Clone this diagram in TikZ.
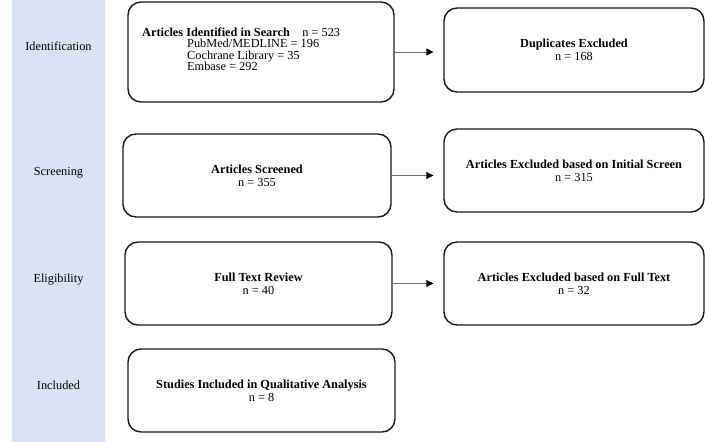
\documentclass[tikz,border=0pt]{standalone}
\usepackage{fontspec}
\setmainfont{Liberation Serif}
\usetikzlibrary{arrows.meta}
\definecolor{bandblue}{RGB}{218,227,243}
\definecolor{edgeblack}{RGB}{25,25,25}
\definecolor{linkgray}{RGB}{110,110,110}

\begin{document}
\begin{tikzpicture}[x=1pt,y=-1pt,
  every node/.style={font=\fontsize{12.3}{12.8}\selectfont},
  stage/.style={anchor=base, inner sep=0pt},
  stepbox/.style={draw=edgeblack, line width=1.4pt, rounded corners=13pt,
    align=center, inner sep=0pt},
  link/.style={draw=linkgray, line width=0.9pt,
    -{Triangle[length=7pt,width=7pt,color=black]}, shorten >=10pt}
]
\useasboundingbox (0,0) rectangle (705,442);

% stage band on the left
\fill[bandblue] (12,0) rectangle (105,442);
\node[stage] (lid)  at (58.5,50)    {Identification};
\node[stage] (lscr) at (58.5,175.7) {Screening};
\node[stage] (lel)  at (58.5,282.3) {Eligibility};
\node[stage] (linc) at (58.5,389)   {Included};

% boxes
\node[stepbox, minimum width=266pt, minimum height=100pt] (ident) at (261,52) {};
\node[anchor=north west, align=left, inner sep=0pt,
      font=\fontsize{12.3}{11.5}\selectfont] (identtxt) at (142,27.2)
  {\textbf{Articles Identified in Search}\hspace{12.5pt}n = 523\\
   \hspace*{45pt}PubMed/MEDLINE = 196\\
   \hspace*{45pt}Cochrane Library = 35\\
   \hspace*{45pt}Embase = 292};

\node[stepbox, minimum width=260pt, minimum height=84pt] (dup) at (574,50)
  {\textbf{Duplicates Excluded}\\n = 168};

\node[stepbox, minimum width=268pt, minimum height=83pt] (scr) at (257,175.5)
  {\textbf{Articles Screened}\\n = 355};
\node[stepbox, minimum width=260pt, minimum height=83pt] (exinit) at (574,170.5)
  {\textbf{Articles Excluded based on Initial Screen}\\n = 315};

\node[stepbox, minimum width=267pt, minimum height=83pt] (full) at (258.5,283.5)
  {\textbf{Full Text Review}\\n = 40};
\node[stepbox, minimum width=260pt, minimum height=83pt] (exfull) at (574,283.5)
  {\textbf{Articles Excluded based on Full Text}\\n = 32};

\node[stepbox, minimum width=267pt, minimum height=83pt] (incl) at (261.5,390.5)
  {\textbf{Studies Included in Qualitative Analysis}\\n = 8};

% connectors
\draw[link] (ident.east) -- (ident.east -| dup.west);
\draw[link] (scr.east) -- (scr.east -| exinit.west);
\draw[link] (full.east) -- (full.east -| exfull.west);
\end{tikzpicture}
\end{document}
